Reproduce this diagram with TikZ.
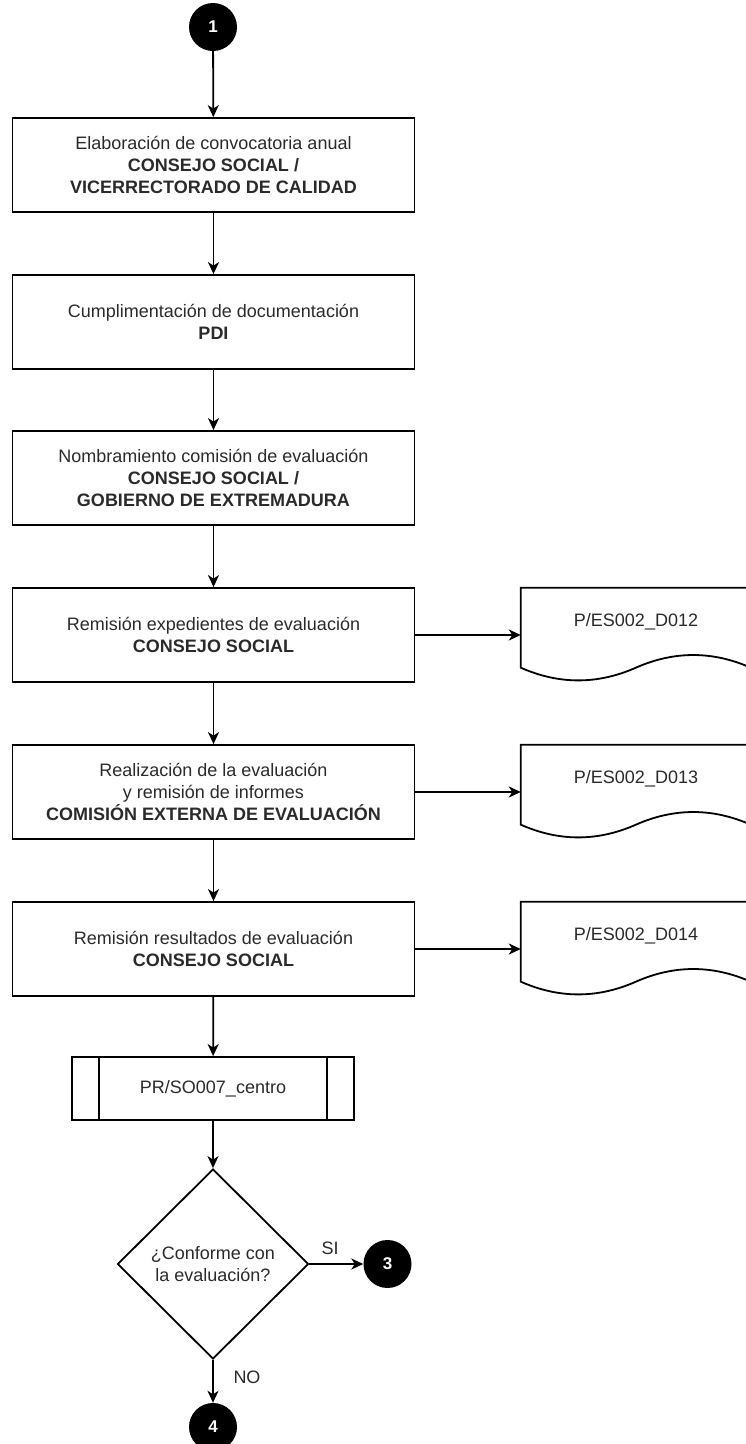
\documentclass[tikz,border=0pt]{standalone}
\usepackage{fontspec}
\setmainfont{Liberation Sans}
\usetikzlibrary{shapes.geometric,arrows.meta,calc}
\definecolor{txt}{HTML}{2A2A2A}
\newcommand{\fsz}{\fontsize{18}{21.6}\selectfont}
\newcommand{\docoutline}[1]{%
  \draw[line width=1.8pt,shift={(#1.north west)}] (0,0) -- (230,0) -- (230,79.9)
    .. controls (191.67,62.98) and (153.33,62.98) .. (115,79.9)
    .. controls (76.67,96.82) and (38.33,96.82) .. (0,79.9) -- cycle;}
\begin{document}
\begin{tikzpicture}[x=1pt,y=-1pt,
  box/.style={draw, line width=1.8pt, minimum width=402pt, minimum height=94pt,
    align=center, inner sep=0pt, font=\fsz, text=txt},
  docbox/.style={minimum width=230pt, minimum height=94pt, inner sep=0pt},
  doctext/.style={font=\fsz, text=txt, inner sep=0pt},
  arr/.style={-{Stealth[length=12pt,width=11pt,inset=3.5pt]}, line width=1.8pt},
  circ/.style={circle, fill=black, minimum size=48pt, inner sep=0pt, text=white,
    font=\bfseries\fontsize{17}{20}\selectfont},
  lbl/.style={font=\fsz, text=txt, inner sep=0pt}]
\useasboundingbox (0,0) rectangle (746,1444);
\clip (0,0) rectangle (746,1444);

\node[circ] (c1) at (213,27) {1};

\node[box] (b1) at (213.5,165) {Elaboración de convocatoria anual\\\textbf{CONSEJO SOCIAL /}\\\textbf{VICERRECTORADO DE CALIDAD}};
\node[box] (b2) at (213.5,322) {Cumplimentación de documentación\\\textbf{PDI}};
\node[box] (b3) at (213.5,478) {Nombramiento comisión de evaluación\\\textbf{CONSEJO SOCIAL /}\\\textbf{GOBIERNO DE EXTREMADURA}};
\node[box] (b4) at (213.5,635) {Remisión expedientes de evaluación\\\textbf{CONSEJO SOCIAL}};
\node[box] (b5) at (213.5,792) {Realización de la evaluación\\y remisión de informes\\\textbf{COMISIÓN EXTERNA DE EVALUACIÓN}};
\node[box] (b6) at (213.5,949) {Remisión resultados de evaluación\\\textbf{CONSEJO SOCIAL}};

% documents
\node[docbox] (d1) at (636,635) {};
\node[docbox] (d2) at (636,792) {};
\node[docbox] (d3) at (636,949) {};
\docoutline{d1}
\docoutline{d2}
\docoutline{d3}
\node[doctext] (t1) at ($(d1.north)+(0,34)$) {P/ES002\_D012};
\node[doctext] (t2) at ($(d2.north)+(0,34)$) {P/ES002\_D013};
\node[doctext] (t3) at ($(d3.north)+(0,34)$) {P/ES002\_D014};

% predefined process
\node[draw, line width=1.8pt, minimum width=282pt, minimum height=63pt, inner sep=0pt,
  font=\fsz, text=txt] (pr) at (213,1088.5) {PR/SO007\_centro};
\draw[line width=1.8pt] ($(pr.north west)+(28,0)$) -- ($(pr.south west)+(28,0)$);
\draw[line width=1.8pt] ($(pr.north east)+(-28,0)$) -- ($(pr.south east)+(-28,0)$);

% decision
\node[diamond, draw, line width=1.8pt, minimum width=191pt, minimum height=190pt,
  inner sep=0pt, align=center, font=\fsz, text=txt] (dec) at (213,1264)
  {¿Conforme con\\la evaluación?};

\node[circ] (c3) at (387.5,1264) {3};
\node[circ] (c4) at (213,1427) {4};

% connectors
\draw[arr] (c1) -- (b1);
\draw[arr] (b1) -- (b2);
\draw[arr] (b2) -- (b3);
\draw[arr] (b3) -- (b4);
\draw[arr] (b4) -- (b5);
\draw[arr] (b5) -- (b6);
\draw[arr] (b6) -- (pr);
\draw[arr] (pr) -- (dec);
\draw[arr] (b4) -- (d1);
\draw[arr] (b5) -- (d2);
\draw[arr] (b6) -- (d3);
\draw[arr] (dec) -- (c3);
\draw[arr] (dec) -- (c4);

\node[lbl] (si) at (330,1248) {SI};
\node[lbl] (no) at (247,1377) {NO};
\end{tikzpicture}
\end{document}
